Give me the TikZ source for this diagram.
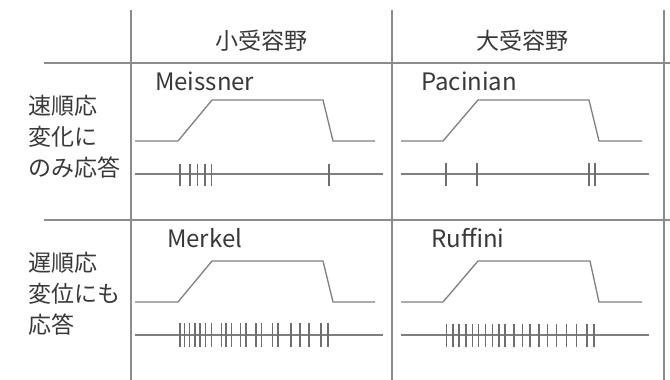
\documentclass[tikz,border=0pt]{standalone}
\usepackage{fontspec}
\setmainfont{Noto Sans CJK JP}
\definecolor{gridc}{HTML}{8C8C8C}
\definecolor{wavec}{HTML}{7F7F7F}
\definecolor{spikec}{HTML}{6E6E6E}
\definecolor{txtc}{HTML}{383838}
\tikzset{
  gridline/.style={draw=gridc, line width=1.2pt},
  wave/.style={draw=wavec, line width=1.3pt, line join=miter},
  spikeline/.style={draw=wavec, line width=1.3pt},
  spk/.style={draw=spikec, line width=1.1pt},
  hdr/.style={text=txtc, font=\fontsize{23}{23}\selectfont, inner sep=0pt, anchor=center},
  nm/.style={text=txtc, font=\fontsize{24}{24}\selectfont, inner sep=0pt, anchor=base west},
  rowlab/.style={text=txtc, font=\fontsize{23}{31}\selectfont, inner sep=0pt, anchor=north west, align=left}
}
\begin{document}
\begin{tikzpicture}[x=1pt,y=-1pt]
\useasboundingbox (0,0) rectangle (670,380);
% grid
\draw[gridline] (131,10) -- (131,380);
\draw[gridline] (392,10) -- (392,380);
\draw[gridline] (664,10) -- (664,380);
\draw[gridline] (44,63) -- (670,63);
\draw[gridline] (44,220) -- (670,220);
% headers
\node[hdr] (small) at (261,41) {小受容野};
\node[hdr] (large) at (522,41) {大受容野};
% names
\node[nm] (meis) at (155,90) {Meissner};
\node[nm] (paci) at (421,90) {Pacinian};
\node[nm] (merk) at (167,247) {Merkel};
\node[nm] (ruff) at (431,247) {Ruffini};
% row labels
\node[rowlab] (fast) at (28,95) {速順応\\変化に\\のみ応答};
\node[rowlab] (slow) at (28,252) {遅順応\\変位にも\\応答};
% waveforms
\draw[wave] (135,141) -- (178,141) -- (212,100) -- (323,100) -- (333,141) -- (375,141);
\draw[wave] (401,141) -- (443,141) -- (478,100) -- (589,100) -- (599,141) -- (642,141);
\draw[wave] (135,302) -- (178,302) -- (212,261) -- (323,261) -- (333,302) -- (375,302);
\draw[wave] (401,302) -- (443,302) -- (478,261) -- (590,261) -- (599,302) -- (642,302);
% spike lines
\draw[spikeline] (135,174) -- (383,174);
\draw[spikeline] (401,174) -- (649,174);
\draw[spikeline] (135,335) -- (383,335);
\draw[spikeline] (401,335) -- (649,335);
% spikes
\foreach \x in {180,190,197.5,205,211.5,329} \draw[spk] (\x,164) -- (\x,186);
\foreach \x in {446,477,589,595} \draw[spk] (\x,163) -- (\x,186);
\foreach \x in {180,184.5,189.5,195,200,205.5,211.5,221.5,226,231.5,240.5,246,256,261.5,272.5,278,291,300,309,321,328}
  \draw[spk] (\x,323) -- (\x,347);
\foreach \x in {446.5,453,459,466,472.5,478.5,485.5,492.5,499,505,514,522.5,530,539,547.5,556.5,566.5,576.5,587,594}
  \draw[spk] (\x,324) -- (\x,347);
\end{tikzpicture}
\end{document}
